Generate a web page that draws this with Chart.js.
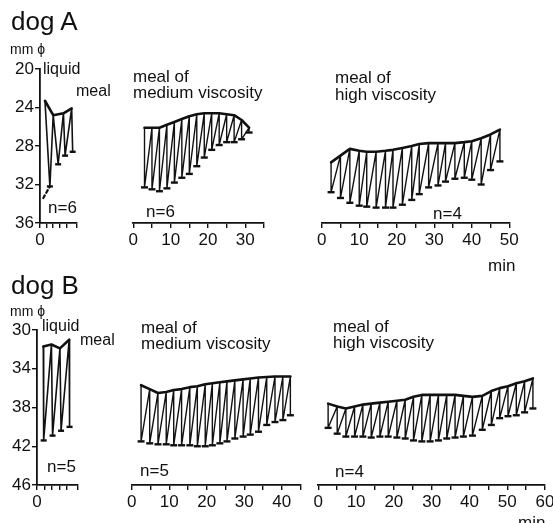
<!DOCTYPE html>
<html><head><meta charset="utf-8">
<script src="https://cdn.jsdelivr.net/npm/chart.js@4"></script>
<style>
html,body{margin:0;padding:0;background:#fff;}
#page{position:relative;width:553px;height:523px;overflow:hidden;font-family:"Liberation Sans","DejaVu Sans",sans-serif;color:#111;}
#page canvas{position:absolute;left:0;top:0;}
.t{position:absolute;white-space:nowrap;line-height:1;}
</style></head><body>
<div id="page">
<canvas id="c1" width="553" height="523"></canvas>
<canvas id="c2" width="553" height="523"></canvas>
<canvas id="c3" width="553" height="523"></canvas>
<canvas id="c4" width="553" height="523"></canvas>
<canvas id="c5" width="553" height="523"></canvas>
<canvas id="c6" width="553" height="523"></canvas>
<div class="t" style="left:11px;top:8px;font-size:26px">dog A</div>
<div class="t" style="left:10px;top:42px;font-size:14px">mm ϕ</div>
<div class="t" style="left:43px;top:61px;font-size:16px">liquid</div>
<div class="t" style="left:76px;top:83px;font-size:16px">meal</div>
<div class="t" style="left:133px;top:68px;font-size:17px">meal of</div>
<div class="t" style="left:133px;top:84px;font-size:17px">medium viscosity</div>
<div class="t" style="left:335px;top:69px;font-size:17px">meal of</div>
<div class="t" style="left:335px;top:86px;font-size:17px">high viscosity</div>
<div class="t" style="left:48px;top:199px;font-size:17px">n=6</div>
<div class="t" style="left:146px;top:203px;font-size:17px">n=6</div>
<div class="t" style="left:433px;top:205px;font-size:17px">n=4</div>
<div class="t" style="left:488px;top:257px;font-size:17px">min</div>
<div class="t" style="left:11px;top:272px;font-size:26px">dog B</div>
<div class="t" style="left:10px;top:304px;font-size:14px">mm ϕ</div>
<div class="t" style="left:42px;top:318px;font-size:16px">liquid</div>
<div class="t" style="left:80px;top:332px;font-size:16px">meal</div>
<div class="t" style="left:141px;top:319px;font-size:17px">meal of</div>
<div class="t" style="left:141px;top:335px;font-size:17px">medium viscosity</div>
<div class="t" style="left:333px;top:318px;font-size:17px">meal of</div>
<div class="t" style="left:333px;top:334px;font-size:17px">high viscosity</div>
<div class="t" style="left:47px;top:458px;font-size:17px">n=5</div>
<div class="t" style="left:140px;top:462px;font-size:17px">n=5</div>
<div class="t" style="left:335px;top:463px;font-size:17px">n=4</div>
<div class="t" style="left:518px;top:514px;font-size:17px">min</div>
</div>
<script>
// ---------- data (minutes, diameter mm) ----------
// dog A, liquid meal
const aLiqTopT = [1.5, 4.0, 7.1, 9.6];
const aLiqTop  = [23.3, 24.8, 24.6, 24.1];
const aLiqLowT = [3.0, 5.5, 7.6, 9.9];
const aLiqLow  = [32.2, 29.9, 29.0, 28.6];
const aLiqTrendT = [1.0, 3.0];
const aLiqTrend  = [33.4, 32.2];
// dog A, medium viscosity
const aMedT   = [3,5,7,9,11,13,15,17,19,21,23,25,27,29,31];
const aMedUp  = [26.1,26.1,26.1,25.8,25.5,25.2,24.9,24.7,24.6,24.6,24.6,24.7,24.8,25.3,26.1];
const aMedLow = [32.3,32.5,32.7,32.4,31.8,31.3,30.9,30.1,29.2,28.4,27.9,27.6,27.6,27.3,26.6];
// dog A, high viscosity
const aHighT   = [2.5,5,7.5,10,12,14.5,17,19,21.5,24,26,28.5,31,33,35.5,38,40,42.5,45,47.5];
const aHighUp  = [29.7,29.0,28.3,28.5,28.6,28.6,28.5,28.4,28.2,28.0,27.8,27.7,27.7,27.7,27.7,27.6,27.5,27.2,26.8,26.3];
const aHighLow = [32.8,33.4,33.9,34.2,34.3,34.4,34.4,34.4,34.1,33.6,33.0,32.3,32.1,31.7,31.4,31.3,31.5,32.0,30.5,29.6];
// dog B, liquid meal
const bLiqTopT = [1.7, 3.9, 6.2, 8.7];
const bLiqTop  = [31.7, 31.5, 31.9, 31.0];
const bLiqLowT = [1.8, 4.2, 6.5, 8.8];
const bLiqLow  = [41.4, 40.9, 40.4, 40.0];
// dog B, medium viscosity
const bMedT   = [2.5,4.8,7,9.2,11.2,13.3,15.5,17.5,19.6,21.5,23.5,25.4,27.5,29.7,31.6,33.8,36,38.2,40.3,42.3];
const bMedUp  = [35.7,36.1,36.5,36.4,36.2,36.1,35.9,35.8,35.6,35.5,35.4,35.3,35.2,35.1,35.0,34.9,34.85,34.8,34.8,34.8];
const bMedLow = [41.5,41.7,41.8,41.8,41.9,41.9,41.9,42.0,42.0,41.9,41.7,41.5,41.2,41.0,40.8,40.5,39.8,39.5,39.3,38.8];
// dog B, high viscosity
const bHighT   = [2.6,5,7.3,9.6,11.8,14,16.3,18.5,20.8,23,25.2,27.4,29.6,31.8,34,36.2,38.4,40.8,43.4,45.8,48,50.2,52.4,54.6,56.8];
const bHighUp  = [37.6,37.9,38.1,37.9,37.7,37.6,37.5,37.4,37.3,37.2,36.9,36.7,36.7,36.7,36.7,36.7,36.8,36.9,36.8,36.3,36.0,35.8,35.5,35.3,35.0];
const bHighLow = [40.1,40.7,41.0,41.0,41.0,41.1,41.0,41.0,41.1,41.2,41.4,41.5,41.5,41.4,41.2,41.1,41.0,40.9,40.3,39.8,39.1,38.9,38.8,38.5,38.1];
// axis ticks
const yTicksA = [20,24,28,32,36];
const yTicksB = [30,34,38,42,46];

// ---------- helpers ----------
const INK = '#111';
const FONT = {family:'"Liberation Sans","DejaVu Sans",sans-serif', size:17};
const pts = (xs, ys) => xs.map((x,i)=>({x, y:ys[i]}));
function zig(tTop, top, tLow, low){
  const out=[];
  for(let i=0;i<top.length;i++){ out.push({x:tTop[i],y:top[i]}); out.push({x:tLow[i],y:low[i]}); }
  return out;
}
function panel(id, g, sets){
  const YW = g.showY ? 30 : 0, XH = 30;
  const yScale = {
    type:'linear', reverse:true, min:g.ymin, max:g.ymax, display:g.showY,
    afterBuildTicks: s => { if (g.yTicks) s.ticks = g.yTicks.map(v=>({value:v})); },
    ticks:{color:INK, font:FONT, padding:1, autoSkip:false},
    grid:{display:true, drawOnChartArea:false, drawTicks:true, tickLength:5, color:INK, lineWidth:1.4},
    border:{display:true, color:INK, width:1.8},
    afterFit: s => { s.width = YW; s.paddingTop=0; s.paddingBottom=0; s.paddingLeft=0; s.paddingRight=0; }
  };
  const xScale = {
    type:'linear', min:0, max:g.xmax, display:true,
    ticks:{color:INK, font:FONT, padding:2, stepSize:g.step, autoSkip:false, maxRotation:0,
           callback: v => (v % 10 === 0 ? String(v) : '')},
    grid:{display:true, drawOnChartArea:false, drawTicks:true, tickLength:5, color:INK, lineWidth:1.4},
    border:{display:true, color:INK, width:1.8},
    afterFit: s => { s.height = XH; s.paddingTop=0; s.paddingBottom=0; s.paddingLeft=0; s.paddingRight=0; }
  };
  new Chart(document.getElementById(id), {
    type:'scatter',
    data:{datasets:sets},
    options:{
      responsive:false, animation:false, devicePixelRatio:1,
      layout:{padding:{left:g.left-YW, top:g.top, right:553-g.right, bottom:523-g.bottom-XH}},
      plugins:{legend:{display:false}, tooltip:{enabled:false}},
      elements:{line:{borderJoinStyle:'round', borderCapStyle:'round', tension:0}},
      scales:{x:xScale, y:yScale}
    }
  });
}
function viscSets(t, up, low){
  return [
    {data:zig(t, up, t, low), showLine:true, borderColor:INK, borderWidth:1.4, pointRadius:0, clip:false},
    {data:pts(t, up), showLine:true, borderColor:INK, borderWidth:2.6, pointRadius:0, clip:false},
    {data:pts(t, low), showLine:false, pointStyle:'line', pointRadius:3.5, borderColor:INK, borderWidth:2.4, clip:false}
  ];
}

// dog A
panel('c1', {left:40, right:76.3, top:69, bottom:223, xmax:11, step:2, ymin:20, ymax:36, showY:true, yTicks:yTicksA}, [
  {data:zig(aLiqTopT, aLiqTop, aLiqLowT, aLiqLow), showLine:true, borderColor:INK, borderWidth:1.6, pointRadius:0, clip:false},
  {data:pts(aLiqTopT, aLiqTop), showLine:true, borderColor:INK, borderWidth:2.6, pointRadius:0, clip:false},
  {data:pts(aLiqLowT, aLiqLow), showLine:false, pointStyle:'line', pointRadius:3, borderColor:INK, borderWidth:2.4, clip:false},
  {data:pts(aLiqTrendT, aLiqTrend), showLine:true, borderColor:INK, borderWidth:2.2, borderDash:[3,3], pointRadius:0, clip:false}
]);
panel('c2', {left:133.3, right:264, top:69, bottom:223, xmax:35, step:5, ymin:20, ymax:36, showY:false}, viscSets(aMedT, aMedUp, aMedLow));
panel('c3', {left:321.7, right:509.3, top:69, bottom:223, xmax:50, step:5, ymin:20, ymax:36, showY:false}, viscSets(aHighT, aHighUp, aHighLow));
// dog B
panel('c4', {left:37, right:77.7, top:330, bottom:485, xmax:11, step:2, ymin:30, ymax:46, showY:true, yTicks:yTicksB}, [
  {data:zig(bLiqTopT, bLiqTop, bLiqLowT, bLiqLow), showLine:true, borderColor:INK, borderWidth:1.6, pointRadius:0, clip:false},
  {data:pts(bLiqTopT, bLiqTop), showLine:true, borderColor:INK, borderWidth:2.6, pointRadius:0, clip:false},
  {data:pts(bLiqLowT, bLiqLow), showLine:false, pointStyle:'line', pointRadius:3, borderColor:INK, borderWidth:2.4, clip:false}
]);
panel('c5', {left:131.7, right:300.5, top:330, bottom:485, xmax:45, step:5, ymin:30, ymax:46, showY:false}, viscSets(bMedT, bMedUp, bMedLow));
panel('c6', {left:318.3, right:545, top:330, bottom:485, xmax:60, step:5, ymin:30, ymax:46, showY:false}, viscSets(bHighT, bHighUp, bHighLow));
</script>
</body></html>
